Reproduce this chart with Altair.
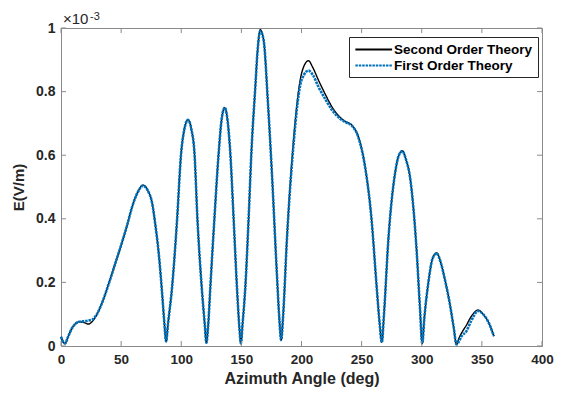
import altair as alt
import pandas as pd

# ---- data (E in units of 1e-3 V/m) ----
series_names = ["Second Order Theory", "First Order Theory"]

angle_second = [0, 1.5, 3.3, 6, 9, 12, 15, 19, 22.7, 26, 28.8, 33, 39.8, 45, 50.9, 55, 59.2, 64, 68.3,
                72, 75.8, 78.5, 81.3, 84, 86, 87.4, 89, 92.4, 96.5, 99.9, 102.5, 105.6, 108.5, 111,
                113.5, 117, 119.5, 120.9, 122.3, 124.2, 127.5, 131.1, 133.5, 136.1, 138.5, 140.8,
                143.6, 146.3, 148.3, 149.6, 151, 153.3, 156, 158.3, 161.6, 163.5, 165.7, 168.5, 172,
                175.4, 179.5, 181.5, 183.1, 184.8, 187.8, 193.4, 198.9, 202, 205.8, 209.5, 214.1,
                220, 225.2, 232.1, 236, 241.8, 247.3, 252.9, 258.3, 262.5, 265, 266.8, 268.6, 272.2,
                277.8, 281, 283.8, 287, 290.2, 295.7, 298.5, 300.4, 302.2, 305.4, 309, 312.3, 316,
                319.3, 323, 326.5, 328.9, 331, 333, 337.2, 341, 346.9, 351, 355.2, 360]
e_second = [0.029, 0.015, 0.008, 0.03, 0.055, 0.07, 0.076, 0.074, 0.069, 0.077, 0.092, 0.125, 0.197,
            0.258, 0.328, 0.38, 0.438, 0.485, 0.506, 0.49, 0.449, 0.38, 0.29, 0.17, 0.07, 0.014,
            0.07, 0.186, 0.396, 0.606, 0.68, 0.711, 0.68, 0.606, 0.396, 0.186, 0.07, 0.01, 0.06,
            0.186, 0.396, 0.606, 0.71, 0.749, 0.71, 0.606, 0.396, 0.186, 0.06, 0.008, 0.07, 0.186,
            0.4, 0.606, 0.815, 0.93, 0.995, 0.962, 0.77, 0.543, 0.229, 0.09, 0.019, 0.1, 0.333,
            0.648, 0.836, 0.88, 0.897, 0.875, 0.836, 0.79, 0.753, 0.719, 0.707, 0.695, 0.658,
            0.564, 0.396, 0.186, 0.07, 0.012, 0.1, 0.333, 0.543, 0.6, 0.614, 0.585, 0.532, 0.302,
            0.12, 0.008, 0.09, 0.197, 0.275, 0.293, 0.26, 0.208, 0.14, 0.06, 0.005, 0.025, 0.04,
            0.066, 0.092, 0.113, 0.1, 0.077, 0.031]

angle_first = list(angle_second)
e_first = [0.029, 0.015, 0.008, 0.03, 0.055, 0.07, 0.076, 0.078, 0.080, 0.083, 0.094, 0.125, 0.197,
           0.258, 0.328, 0.38, 0.438, 0.485, 0.504, 0.49, 0.449, 0.38, 0.29, 0.17, 0.07, 0.014,
           0.07, 0.186, 0.396, 0.606, 0.68, 0.711, 0.68, 0.606, 0.396, 0.186, 0.07, 0.01, 0.06,
           0.186, 0.396, 0.606, 0.71, 0.749, 0.71, 0.606, 0.396, 0.186, 0.06, 0.008, 0.07, 0.186,
           0.4, 0.606, 0.815, 0.93, 0.99, 0.962, 0.77, 0.543, 0.229, 0.09, 0.019, 0.1, 0.33,
           0.635, 0.82, 0.852, 0.866, 0.852, 0.815, 0.775, 0.743, 0.715, 0.705, 0.693, 0.656,
           0.562, 0.396, 0.186, 0.07, 0.012, 0.1, 0.333, 0.543, 0.6, 0.612, 0.585, 0.532, 0.302,
           0.12, 0.008, 0.09, 0.197, 0.275, 0.291, 0.26, 0.208, 0.14, 0.06, 0.005, 0.015, 0.03,
           0.047, 0.078, 0.11, 0.1, 0.077, 0.031]

x_ticks = [0, 50, 100, 150, 200, 250, 300, 350, 400]
y_ticks = [0, 0.2, 0.4, 0.6, 0.8, 1.0]

# ---- build ----
W, H = 481, 318
FONT = "Liberation Sans"
GREY = "#8a8a8a"
TXT = "#262626"

df = pd.concat([
    pd.DataFrame({"angle": angle_second, "E": e_second, "series": series_names[0]}),
    pd.DataFrame({"angle": angle_first, "E": e_first, "series": series_names[1]}),
], ignore_index=True)

xscale = alt.Scale(domain=[0, 400], nice=False)
yscale = alt.Scale(domain=[0, 1], nice=False)

legend = alt.Legend(
    title=None, orient="none", legendX=288, legendY=9,
    strokeColor="#262626", fillColor="white", padding=5, cornerRadius=0,
    symbolType="M-1,0L5,0", symbolSize=150, symbolStrokeWidth=2,
    labelFont=FONT, labelFontSize=13.5, labelFontWeight="bold", labelColor="#000000",
    rowPadding=2, labelOffset=25,
)
color = alt.Color("series:N", scale=alt.Scale(domain=series_names, range=["#000000", "#0072BD"]),
                  legend=legend)
dash = alt.StrokeDash("series:N", scale=alt.Scale(domain=series_names, range=[[1, 0], [2.5, 0.9]]),
                      legend=legend)

xaxis = alt.Axis(values=x_ticks, ticks=False, domain=False, grid=False, format="d",
                 labelFlush=False,
                 labelFont=FONT, labelFontSize=13.5, labelFontWeight="bold", labelColor=TXT,
                 labelPadding=6, title="Azimuth Angle (deg)", titleFont=FONT, titleFontSize=16,
                 titleFontWeight="bold", titleColor=TXT, titlePadding=5)
yaxis = alt.Axis(values=y_ticks, ticks=False, domain=False, grid=False, format="~g",
                 labelFlush=False,
                 labelFont=FONT, labelFontSize=14, labelFontWeight="bold", labelColor=TXT,
                 labelPadding=6, title="E(V/m)", titleFont=FONT, titleFontSize=15,
                 titleFontWeight="bold", titleColor=TXT, titlePadding=9)

base = alt.Chart(df).encode(
    x=alt.X("angle:Q", scale=xscale, axis=xaxis),
    y=alt.Y("E:Q", scale=yscale, axis=yaxis),
    color=color, strokeDash=dash,
)
line_second = base.transform_filter(alt.datum.series == series_names[0]).mark_line(
    strokeWidth=1.4, interpolate="monotone")
line_first = base.transform_filter(alt.datum.series == series_names[1]).mark_line(
    strokeWidth=2.6, interpolate="monotone", strokeCap="butt")

xt = pd.DataFrame({"t": x_ticks})
yt = pd.DataFrame({"t": y_ticks})
tb = alt.Chart(xt).mark_rule(color=GREY, strokeWidth=1).encode(
    x=alt.X("t:Q", scale=xscale, axis=xaxis), y=alt.value(H), y2=alt.value(H - 5))
tt = alt.Chart(xt).mark_rule(color=GREY, strokeWidth=1).encode(
    x=alt.X("t:Q", scale=xscale, axis=xaxis), y=alt.value(0), y2=alt.value(5))
tl = alt.Chart(yt).mark_rule(color=GREY, strokeWidth=1).encode(
    y=alt.Y("t:Q", scale=yscale, axis=yaxis), x=alt.value(0), x2=alt.value(5))
tr = alt.Chart(yt).mark_rule(color=GREY, strokeWidth=1).encode(
    y=alt.Y("t:Q", scale=yscale, axis=yaxis), x=alt.value(W), x2=alt.value(W - 5))

exp_main = alt.Chart(pd.DataFrame({"s": ["\u00d710"]})).mark_text(
    font=FONT, fontSize=15, color=TXT, align="left", baseline="alphabetic", dx=2, dy=-4
).encode(x=alt.datum(0, scale=xscale), y=alt.datum(1, scale=yscale), text="s:N")
exp_sup = alt.Chart(pd.DataFrame({"s": ["-3"]})).mark_text(
    font=FONT, fontSize=11, color=TXT, align="left", baseline="alphabetic", dx=29, dy=-8
).encode(x=alt.datum(0, scale=xscale), y=alt.datum(1, scale=yscale), text="s:N")

chart = alt.layer(line_second, line_first, tb, tt, tl, tr, exp_main, exp_sup).properties(
    width=W, height=H,
    autosize=alt.AutoSizeParams(type="none"),
    padding={"left": 53, "top": 20, "right": 12, "bottom": 44},
    background="white",
).configure_view(stroke=GREY, strokeWidth=1)

chart.save("out.html", embed_options={"renderer": "svg", "actions": False})
